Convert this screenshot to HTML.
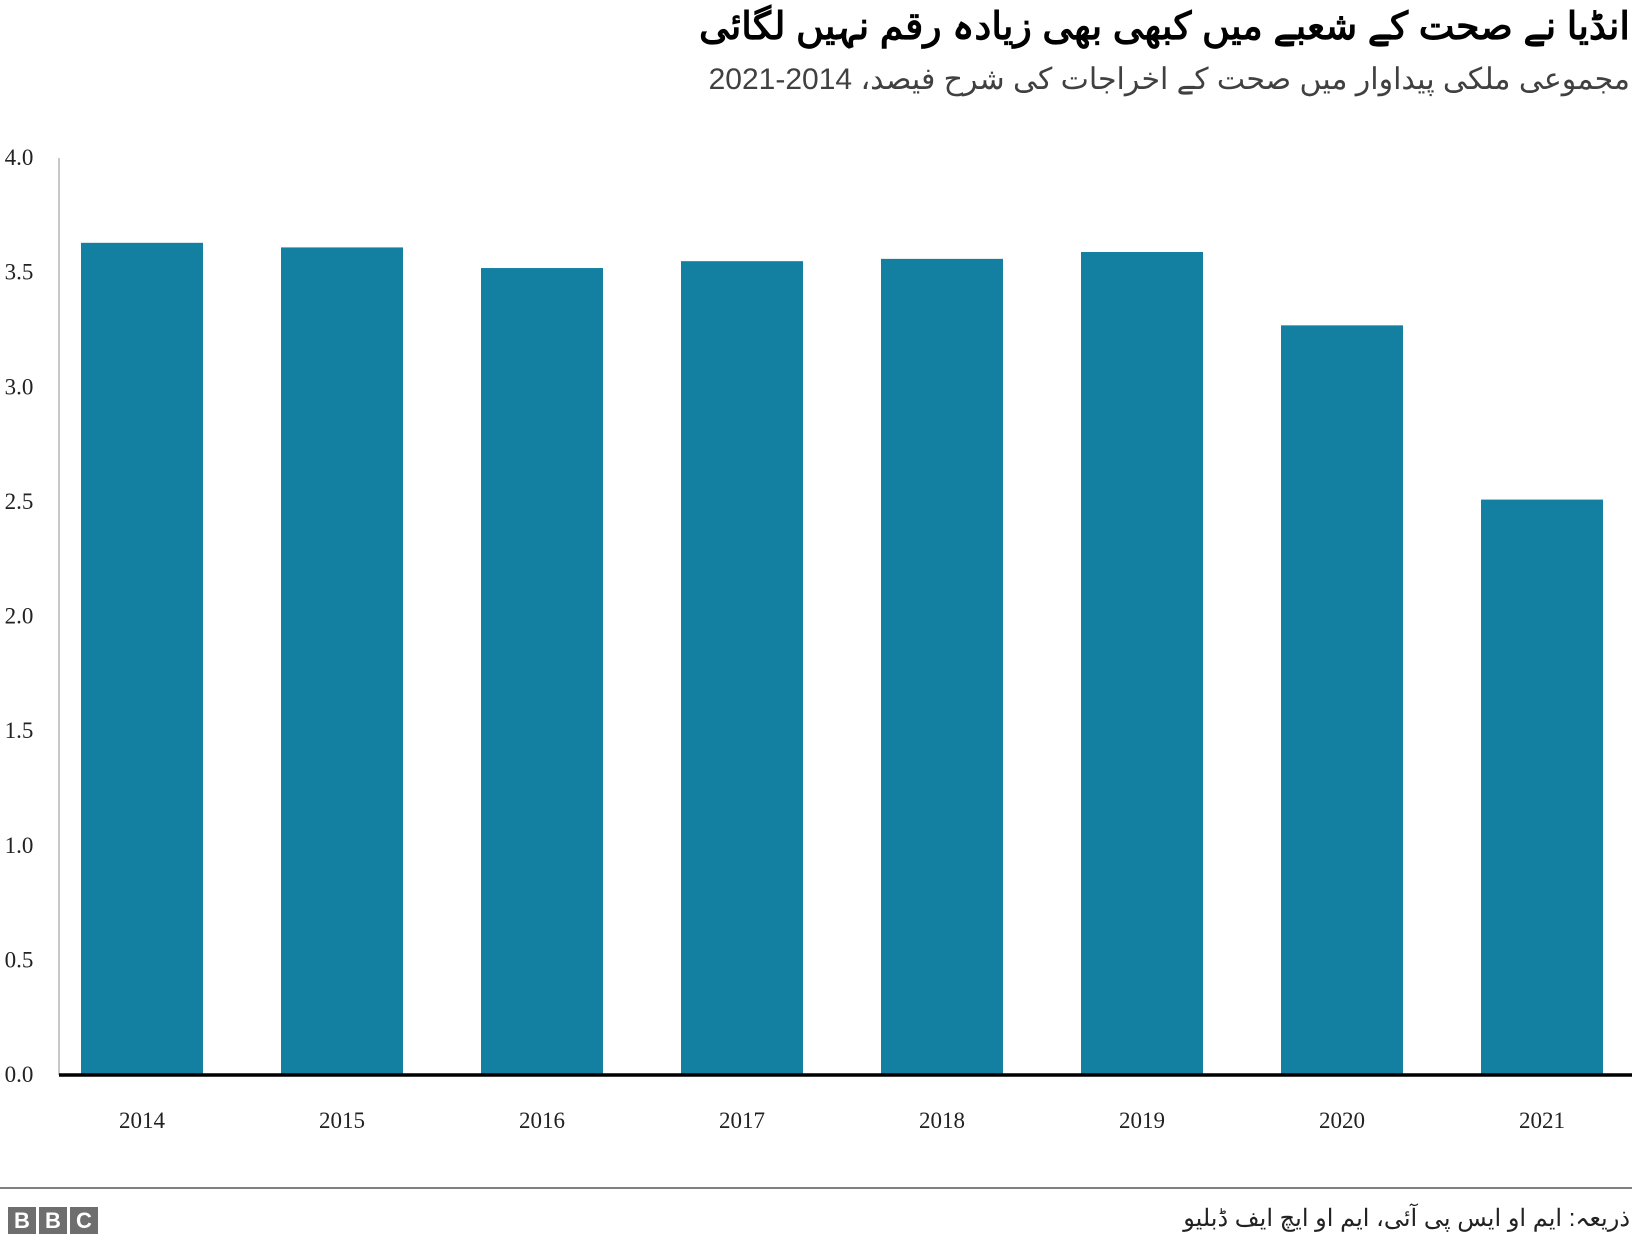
<!DOCTYPE html>
<html><head><meta charset="utf-8">
<style>
body{margin:0;width:1632px;height:1246px;background:#fff;overflow:hidden;position:relative;font-family:"Liberation Sans","Noto Sans CJK SC",sans-serif}
.t{position:absolute;white-space:nowrap}
</style></head><body>
<div class="t" dir="rtl" style="right:2px;top:4px;font-size:38px;font-weight:bold;color:#000">انڈیا نے صحت کے شعبے میں کبھی بھی زیادہ رقم نہیں لگائی</div>
<div class="t" dir="rtl" style="right:2px;top:62px;font-size:30px;color:#404040">مجموعی ملکی پیداوار میں صحت کے اخراجات کی شرح فیصد، 2014-2021</div>
<svg id="chart" width="1632" height="1190" style="position:absolute;left:0;top:0"></svg>
<div style="position:absolute;left:0;top:1187px;width:1632px;height:2px;background:#808080"></div>
<div style="position:absolute;left:8px;top:1207px;display:flex;gap:3px">
<span style="width:28px;height:27px;background:#6e6e6e;color:#fff;font:bold 22px 'Liberation Sans';text-align:center;line-height:27px">B</span>
<span style="width:28px;height:27px;background:#6e6e6e;color:#fff;font:bold 22px 'Liberation Sans';text-align:center;line-height:27px">B</span>
<span style="width:28px;height:27px;background:#6e6e6e;color:#fff;font:bold 22px 'Liberation Sans';text-align:center;line-height:27px">C</span>
</div>
<div class="t" dir="rtl" style="right:2px;top:1204px;font-size:24px;color:#222">ذریعہ: ایم او ایس پی آئی، ایم او ایچ ایف ڈبلیو</div>
<script>
const categories=["2014","2015","2016","2017","2018","2019","2020","2021"];
const values=[3.63,3.61,3.52,3.55,3.56,3.59,3.27,2.51];
const yTicks=[0,0.5,1,1.5,2,2.5,3,3.5,4];
const yTickLabels=["0.0","0.5","1.0","1.5","2.0","2.5","3.0","3.5","4.0"];
const svg=document.getElementById('chart');
const NS='http://www.w3.org/2000/svg';
const y0=1075,yTop=158,xL=59,xR=1632;
function y(v){return y0-(v/4)*(y0-yTop);}
const step=200;
function x(i){return xL+step*i+22;}
const bw=122;
function mk(t,a){const e=document.createElementNS(NS,t);for(const k in a)e.setAttribute(k,a[k]);svg.appendChild(e);return e;}
const ax=mk('line',{x1:xL,x2:xL,y1:yTop,y2:y0,stroke:'#c8c8c8','stroke-width':2});


yTicks.forEach((v,i)=>{
 const t=mk('text',{x:19,y:y(v)+7,'text-anchor':'middle','font-family':'Liberation Serif, serif','font-size':23,fill:'#222'});
 t.textContent=yTickLabels[i];
 
 
});
values.forEach((v,i)=>{
 const r=mk('rect',{x:x(i),y:y(v),width:bw,height:y0-y(v),fill:'#1380a1'});
 
 
 const t=mk('text',{x:x(i)+bw/2,y:1128,'text-anchor':'middle','font-family':'Liberation Serif, serif','font-size':23,fill:'#222'});
 t.textContent=categories[i];
 
 
});
const zl=mk('line',{x1:xL,x2:xR,y1:y0,y2:y0,stroke:'#000','stroke-width':3.5});


</script>
</body></html>
